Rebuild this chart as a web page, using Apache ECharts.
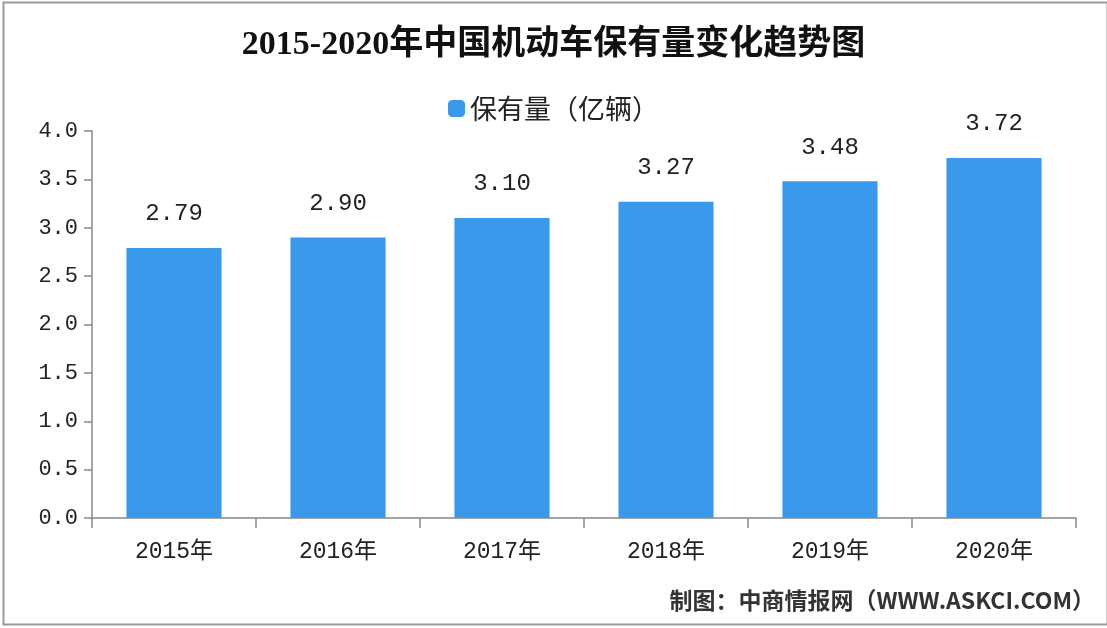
<!DOCTYPE html>
<html><head><meta charset="utf-8">
<script src="https://cdn.jsdelivr.net/npm/echarts@6/dist/echarts.min.js"></script>
<style>html,body{margin:0;padding:0;background:#fff}#c{width:1107px;height:628px}</style>
</head><body><div id="c"></div>
<script>
const categories = ['2015年','2016年','2017年','2018年','2019年','2020年'];
const values = [2.79, 2.90, 3.10, 3.27, 3.48, 3.72];
const seriesName = '保有量（亿辆）';
const titleText = '2015-2020年中国机动车保有量变化趋势图';
const sourceText = '制图：中商情报网（WWW.ASKCI.COM）';

const chart = echarts.init(document.getElementById('c'));
const monoFont = '"Liberation Mono","Noto Sans CJK SC",monospace';
chart.setOption({
  animation: false,
  backgroundColor: '#fff',
  title: {
    text: titleText, left: 'center', top: 23,
    textStyle: {fontSize: 34, fontWeight: 'bold', color: '#111', fontFamily: '"Liberation Serif","Noto Sans CJK SC",serif'}
  },
  legend: {
    top: 90, left: 'center', itemWidth: 17, itemHeight: 17, itemGap: 8,
    icon: 'roundRect',
    textStyle: {fontSize: 27, color: '#222', fontFamily: '"Noto Sans CJK SC",sans-serif'}
  },
  grid: {left: 92, right: 31, top: 131, bottom: 110, containLabel: false},
  xAxis: {
    type: 'category', data: categories,
    axisLine: {lineStyle: {color: '#888', width: 1.5}},
    axisTick: {show: true, length: 10, alignWithLabel: false, lineStyle: {color: '#888', width: 1.5}},
    axisLabel: {fontSize: 23, color: '#222', margin: 22, fontFamily: monoFont}
  },
  yAxis: {
    type: 'value', min: 0, max: 4, interval: 0.5,
    splitLine: {show: false},
    axisLine: {show: true, lineStyle: {color: '#888', width: 1.5}},
    axisTick: {show: true, length: 8, lineStyle: {color: '#888', width: 1.5}},
    axisLabel: {fontSize: 22, color: '#222', margin: 14, fontFamily: monoFont,
      formatter: v => v.toFixed(1)}
  },
  series: [{
    name: seriesName, type: 'bar', data: values, barWidth: '58%',
    itemStyle: {color: '#3A99EA'},
    label: {show: true, position: 'top', distance: 22, fontSize: 24, color: '#222',
      fontFamily: monoFont, formatter: p => p.value.toFixed(2)}
  }],
  graphic: [
    {type: 'text', right: 12, top: 589,
      style: {text: sourceText, fill: '#333',
        font: 'bold 23px "Noto Sans CJK SC", sans-serif'}},
    {type: 'rect', left: 1, top: 0, shape: {width: 1104, height: 622},
      style: {fill: 'none', stroke: '#999', lineWidth: 2}, silent: true}
  ]
});
</script></body></html>
